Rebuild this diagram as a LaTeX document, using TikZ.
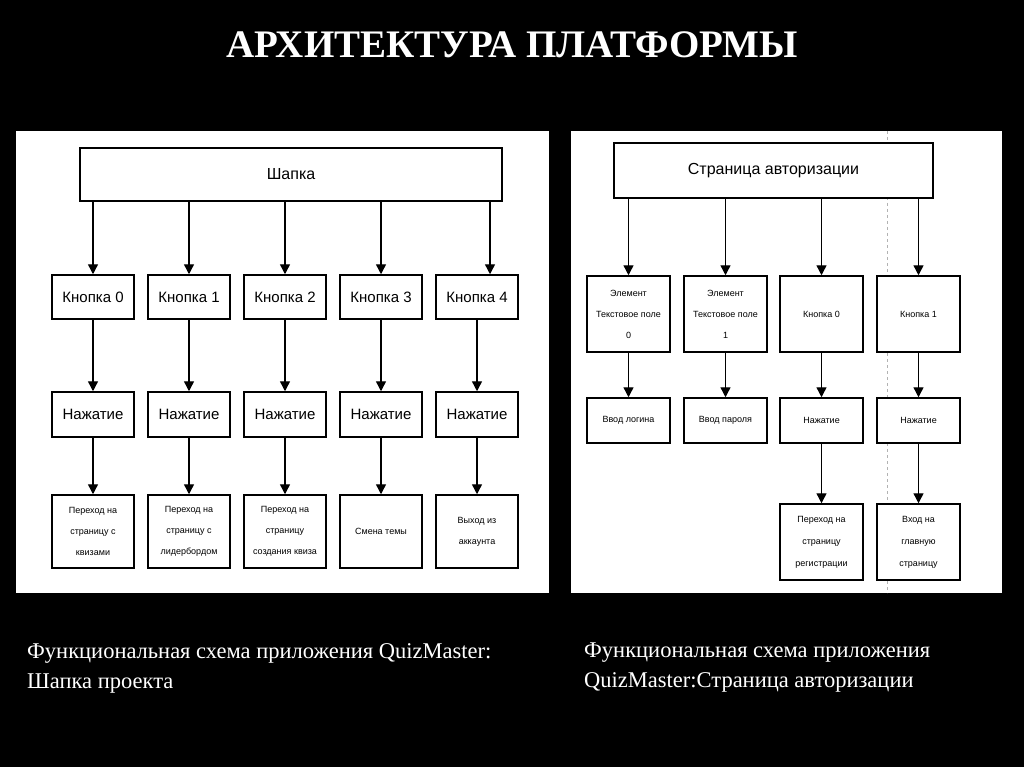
\documentclass[tikz,border=0pt]{standalone}
\usepackage{fontspec}
\setmainfont{Liberation Serif}
\newfontfamily\diag{Liberation Sans}
\usetikzlibrary{arrows.meta}
\begin{document}
\begin{tikzpicture}[x=1pt,y=-1pt,
  bx/.style={draw=black,line width=1.5pt,fill=white,inner sep=0pt,align=center,font=\diag},
  ar/.style={draw=black,line width=1.4pt,-{Triangle[length=10pt,width=10pt]}},
  captxt/.style={text=white,font=\fontsize{22.5}{30}\selectfont,align=left,anchor=north west,inner sep=0pt}]
\fill[black] (0,0) rectangle (1024,767);
\useasboundingbox (0,0) rectangle (1024,767);
\node[text=white,font=\fontsize{39}{44}\selectfont\bfseries] (title) at (512,45) {АРХИТЕКТУРА ПЛАТФОРМЫ};
\fill[white] (16,131) rectangle (549,593);
\fill[white] (571,131) rectangle (1002,593);
% left
\node[bx,minimum width=422,minimum height=53,font=\diag\fontsize{16}{18}\selectfont] (h) at (291,174.5) {Шапка};
\foreach \i/\x/\b in {0/93/{Переход на\\страницу с\\квизами},1/189/{Переход на\\страницу с\\лидербордом},2/285/{Переход на\\страницу\\создания квиза},3/381/{Смена темы},4/477/{Выход из\\аккаунта}}{
  \node[bx,minimum width=82,minimum height=44,font=\diag\fontsize{15}{17}\selectfont] (k\i) at (\x,297) {Кнопка \i};
  \node[bx,minimum width=82,minimum height=45,font=\diag\fontsize{15}{17}\selectfont] (n\i) at (\x,414.5) {Нажатие};
  \node[bx,minimum width=82,minimum height=73,font=\diag\fontsize{9}{21}\selectfont] (r\i) at (\x,531.5) {\b};
  \draw[ar] (k\i) -- (n\i);
  \draw[ar] (n\i) -- (r\i);
}
\foreach \i in {0,1,2,3}{\draw[ar] (h.south -| k\i) -- (k\i);}
\draw[ar] (h.south -| 490,0) -- (k4.north -| 490,0);
% right
\draw[gray!60,dashed,line width=0.8pt] (887,131) -- (887,593);
\node[bx,minimum width=319,minimum height=55,font=\diag\fontsize{16}{18}\selectfont] (a) at (773.5,170.5) {Страница авторизации};
\node[bx,minimum width=83,minimum height=76,font=\diag\fontsize{9}{21}\selectfont] (e0) at (628.5,314) {Элемент\\Текстовое поле\\0};
\node[bx,minimum width=83,minimum height=76,font=\diag\fontsize{9}{21}\selectfont] (e1) at (725.5,314) {Элемент\\Текстовое поле\\1};
\node[bx,minimum width=83,minimum height=76,font=\diag\fontsize{9}{21}\selectfont] (b0) at (821.5,314) {Кнопка 0};
\node[bx,minimum width=83,minimum height=76,font=\diag\fontsize{9}{21}\selectfont] (b1) at (918.5,314) {Кнопка 1};
\node[bx,minimum width=83,minimum height=45,font=\diag\fontsize{9}{21}\selectfont] (v0) at (628.5,420.5) {Ввод логина};
\node[bx,minimum width=83,minimum height=45,font=\diag\fontsize{9}{21}\selectfont] (v1) at (725.5,420.5) {Ввод пароля};
\node[bx,minimum width=83,minimum height=45,font=\diag\fontsize{9}{21}\selectfont] (p0) at (821.5,420.5) {Нажатие};
\node[bx,minimum width=83,minimum height=45,font=\diag\fontsize{9}{21}\selectfont] (p1) at (918.5,420.5) {Нажатие};
\node[bx,minimum width=83,minimum height=76,font=\diag\fontsize{9}{22}\selectfont] (g0) at (821.5,542) {Переход на\\страницу\\регистрации};
\node[bx,minimum width=83,minimum height=76,font=\diag\fontsize{9}{22}\selectfont] (g1) at (918.5,542) {Вход на\\главную\\страницу};
\foreach \n in {e0,e1,b0,b1}{\draw[ar] (a.south -| \n) -- (\n);}
\draw[ar] (e0) -- (v0); \draw[ar] (e1) -- (v1);
\draw[ar] (b0) -- (p0); \draw[ar] (b1) -- (p1);
\draw[ar] (p0) -- (g0); \draw[ar] (p1) -- (g1);
% captions
\node[captxt] (c1) at (27,643) {Функциональная схема приложения QuizMaster:\\Шапка проекта};
\node[captxt] (c2) at (584,643) {Функциональная схема приложения\\QuizMaster:Страница авторизации};
\end{tikzpicture}
\end{document}
